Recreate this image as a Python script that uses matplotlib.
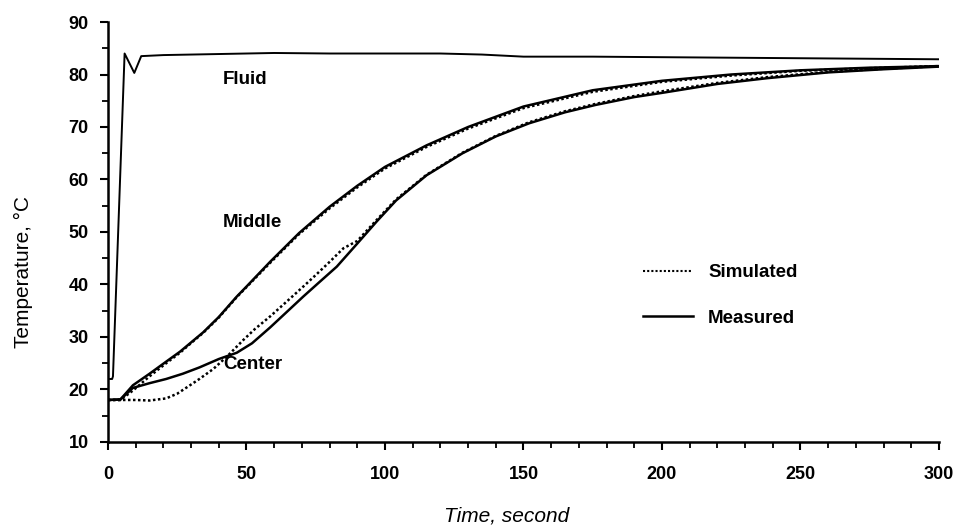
import matplotlib.pyplot as plt
from matplotlib.ticker import MultipleLocator

plt.rcParams['font.family'] = ['Liberation Sans', 'DejaVu Sans']

# fluid temperature (measured only)
t_fluid = [0, 1.5, 1.8, 6, 9.5, 12, 20, 40, 60, 80, 100, 120, 135, 150, 175, 200, 225, 250, 275, 300]
T_fluid = [22, 22, 22.5, 84, 80.3, 83.5, 83.7, 83.9, 84.1, 84.0, 84.0, 84.0, 83.8, 83.4, 83.4, 83.3, 83.2, 83.1, 83.0, 82.9]

# middle position
t_mid = [0, 4.5, 9, 15, 21, 26, 31, 34.4, 40, 46.5, 50, 58.5, 69, 80, 90, 100, 115, 130, 150, 175, 200, 225, 250, 275, 300]
T_mid_meas = [18, 18.1, 20.8, 23.0, 25.3, 27.2, 29.4, 30.9, 33.8, 37.7, 39.6, 44.3, 49.8, 54.8, 58.8, 62.4, 66.5, 70.0, 73.9, 77.0, 78.8, 80.0, 80.8, 81.3, 81.6]
T_mid_sim = [18, 18.0, 19.8, 22.5, 25.0, 27.0, 29.3, 30.8, 33.7, 37.6, 39.5, 44.1, 49.6, 54.5, 58.5, 62.1, 66.2, 69.7, 73.6, 76.7, 78.6, 79.8, 80.7, 81.2, 81.6]

# center position
t_cen = [0, 4.5, 9, 15, 21, 27, 33, 40, 46.5, 52, 58.5, 64, 70.5, 76, 82.6, 90, 97, 104, 115, 128, 140, 152, 165, 176, 190, 200, 220, 238, 260, 280, 300]
T_cen_meas = [18, 18.1, 20.3, 21.2, 22.0, 23.0, 24.2, 25.8, 27.0, 28.8, 31.8, 34.5, 37.7, 40.3, 43.4, 47.8, 52.0, 56.0, 60.8, 65.0, 68.2, 70.7, 72.8, 74.2, 75.7, 76.5, 78.2, 79.3, 80.4, 81.0, 81.5]

t_cen_sim = [0, 5, 10, 15, 21, 25, 29.6, 33, 38, 43, 48.8, 53, 58.5, 64, 70.5, 75, 80, 85, 90, 97, 104, 115, 128, 140, 152, 165, 176, 190, 200, 220, 238, 260, 280, 300]
T_cen_sim = [18, 18.0, 18.0, 17.9, 18.3, 19.2, 20.8, 22.0, 23.9, 26.3, 29.4, 31.5, 33.9, 36.5, 39.6, 41.8, 44.3, 46.9, 48.3, 52.3, 56.2, 60.9, 65.1, 68.3, 70.9, 73.0, 74.4, 75.9, 76.8, 78.4, 79.5, 80.5, 81.1, 81.6]

fig = plt.figure(figsize=(9.59, 5.29), dpi=100)
ax = fig.add_axes([0.1126, 0.1645, 0.8665, 0.7939])

dots = (0, (1, 1))
ax.plot(t_fluid, T_fluid, color='black', lw=1.4)
ax.plot(t_mid, T_mid_meas, color='black', lw=1.8)
ax.plot(t_mid, T_mid_sim, color='black', lw=1.8, ls=dots)
ax.plot(t_cen, T_cen_meas, color='black', lw=1.8)
ax.plot(t_cen_sim, T_cen_sim, color='black', lw=1.8, ls=dots)

lab_kw = dict(fontsize=13.5, fontweight='bold', va='center', ha='left')
ax.text(41.5, 79, 'Fluid', **lab_kw)
ax.text(41.5, 51.9, 'Middle', **lab_kw)
ax.text(41.5, 24.7, 'Center', **lab_kw)

h1, = ax.plot([], [], color='black', lw=1.5, ls=dots)
h2, = ax.plot([], [], color='black', lw=1.8)
leg = ax.legend([h1, h2], ['Simulated', 'Measured'], frameon=False,
                prop={'size': 13.5, 'weight': 'bold'},
                loc='upper left', bbox_to_anchor=(0.6705, 0.5009), bbox_transform=fig.transFigure,
                borderpad=0, borderaxespad=0, handlelength=2.67, handletextpad=0.8,
                labelspacing=1.51)

ax.set_xlim(0, 300)
ax.set_ylim(10, 90)
ax.xaxis.set_major_locator(MultipleLocator(50))
ax.xaxis.set_minor_locator(MultipleLocator(10))
ax.yaxis.set_major_locator(MultipleLocator(10))
ax.yaxis.set_minor_locator(MultipleLocator(5))

for s in ['top', 'right']:
    ax.spines[s].set_visible(False)
for s in ['left', 'bottom']:
    ax.spines[s].set_linewidth(1.8)

ax.tick_params(which='major', direction='out', length=6, width=1.5, labelsize=13)
ax.tick_params(which='minor', direction='out', length=4, width=1.3)
ax.tick_params(axis='x', which='major', pad=11)
ax.tick_params(axis='y', which='major', pad=8)
for lab in ax.get_xticklabels() + ax.get_yticklabels():
    lab.set_fontweight('bold')

# axis titles sit off-centre in the original
fig.text(507 / 959, 1 - 516 / 529, 'Time, second', fontsize=15, style='italic',
         ha='center', va='center')
fig.text(23 / 959, 1 - 272 / 529, 'Temperature, °C', fontsize=15, rotation=90,
         ha='center', va='center')

fig.savefig('out.png', dpi=100)
